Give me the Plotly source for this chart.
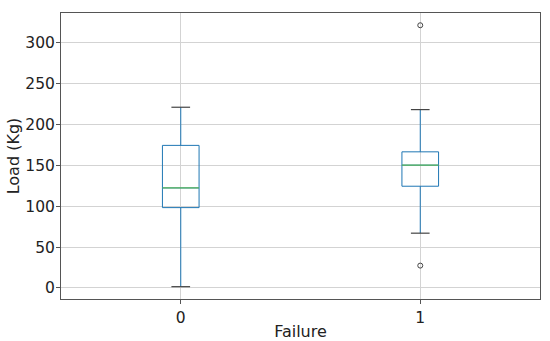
import plotly.graph_objects as go

categories = [0, 1]
lower_whisker = [1.6, 67.1]
q1 = [98.4, 124.6]
median = [122.5, 150.4]
q3 = [174.6, 166.7]
upper_whisker = [221.3, 218.4]
outlier_x = [1, 1]
outlier_y = [321.7, 27.4]
tick_vals = [0, 50, 100, 150, 200, 250, 300]

BOX_W = 0.153
CAP_W = 0.078
BLUE = "#1f77b4"
DARK = "#444444"

fig = go.Figure()
for i, c in enumerate(categories):
    fig.add_trace(go.Box(
        x=[c], q1=[q1[i]], median=[median[i]], q3=[q3[i]],
        lowerfence=[lower_whisker[i]], upperfence=[upper_whisker[i]],
        width=BOX_W, whiskerwidth=0, line=dict(color=BLUE, width=1),
        fillcolor="rgba(0,0,0,0)", boxpoints=False, showlegend=False,
        hoverinfo="skip"))

# medians
mx, my = [], []
for i, c in enumerate(categories):
    mx += [c - BOX_W / 2, c + BOX_W / 2, None]
    my += [median[i], median[i], None]
fig.add_trace(go.Scatter(x=mx, y=my, mode="lines", line=dict(color="#5cb85c", width=1.2),
                         showlegend=False, hoverinfo="skip"))
# caps
cx, cy = [], []
for i, c in enumerate(categories):
    for v in (lower_whisker[i], upper_whisker[i]):
        cx += [c - CAP_W / 2, c + CAP_W / 2, None]
        cy += [v, v, None]
fig.add_trace(go.Scatter(x=cx, y=cy, mode="lines", line=dict(color=DARK, width=1.2),
                         showlegend=False, hoverinfo="skip"))
# outliers
fig.add_trace(go.Scatter(x=outlier_x, y=outlier_y, mode="markers",
                         marker=dict(symbol="circle-open", size=5, color=DARK, line=dict(width=1)),
                         showlegend=False, hoverinfo="skip"))

axis_common = dict(showline=True, linecolor="#555555", linewidth=1, mirror=True,
                   showgrid=True, gridcolor="#d3d3d3", gridwidth=1, zeroline=False,
                   ticks="outside", ticklen=4, tickcolor="#555555", automargin=False,
                   tickfont=dict(size=15.5, color="#222222"))

fig.update_layout(
    width=550, height=341,
    margin=dict(l=61, r=10, t=13, b=42),
    paper_bgcolor="white", plot_bgcolor="white",
    font=dict(family="DejaVu Sans", color="#222222"),
    xaxis=dict(range=[-0.5, 1.5], tickmode="array", tickvals=categories,
               ticktext=[str(c) for c in categories],
               title=dict(text="Failure", font=dict(size=16), standoff=2), **axis_common),
    yaxis=dict(range=[-13.5, 336.7], tickmode="array", tickvals=tick_vals,
               ticklabelstandoff=-2,
               title=dict(text="Load (Kg)", font=dict(size=16), standoff=1), **axis_common),
)

fig.write_html("out.html", config={"displayModeBar": False},
               post_script="document.body.style.margin='0';")
